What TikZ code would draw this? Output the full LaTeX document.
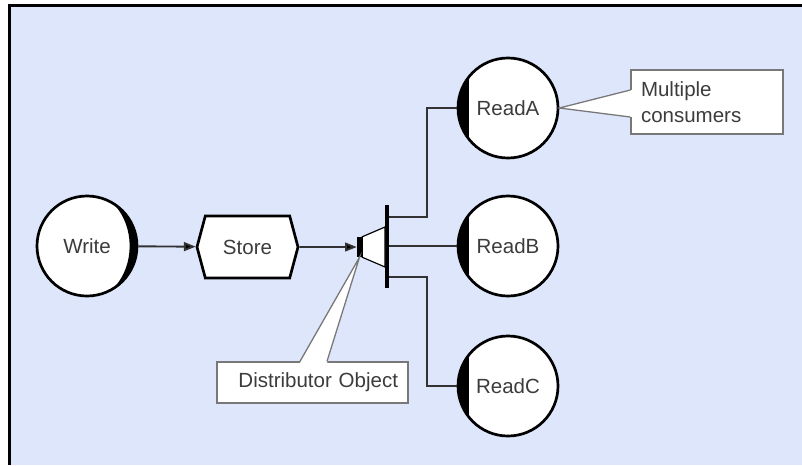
\documentclass[tikz,border=0pt]{standalone}
\usepackage{fontspec}
\setmainfont{Liberation Sans}
\usepackage{tikz}
\usetikzlibrary{arrows.meta,shapes.symbols,calc}

\definecolor{paneblue}{RGB}{222,230,252}
\definecolor{txtgray}{RGB}{60,60,60}
\definecolor{wiregray}{RGB}{50,50,50}
\definecolor{notegray}{RGB}{120,120,120}
\newcommand{\lbl}{\fontsize{17.5}{22}\selectfont}

\tikzset{
  bubble/.style={circle,draw,line width=2.3pt,fill=white,minimum size=3cm,
    inner sep=0pt,font=\lbl,text=txtgray},
  writer/.style={bubble,path picture={
    \fill[black,even odd rule] (path picture bounding box.center) circle (1.7cm)
      ([xshift=-0.17cm]path picture bounding box.center) ellipse (1.45cm and 1.7cm);}},
  reader/.style={bubble,path picture={
    \fill[black] (path picture bounding box.south west)
      rectangle ([xshift=0.33cm]path picture bounding box.north west);}},
  storebox/.style={signal,signal to=west and east,signal pointer angle=150,draw,
    line width=2.3pt,fill=white,minimum width=3.03cm,minimum height=1.86cm,
    font=\lbl,text=txtgray},
  flow/.style={wiregray,line width=1.6pt,-{Triangle[length=10pt,width=7.5pt,fill=black]}},
  wire/.style={wiregray,line width=1.6pt},
  note/.style={draw=notegray,line width=1.1pt,fill=white,font=\lbl,text=txtgray}
}

\begin{document}
\begin{tikzpicture}[x=0.03cm,y=-0.03cm]
    \useasboundingbox (0,0) rectangle (802,465);
    \fill[paneblue] (9.5,5.5) rectangle (802,465);
    \draw[line width=2.6pt] (9.5,465) -- (9.5,5.5) -- (802,5.5);

    \node[writer] (write) at (87,246) {Write};
    \node[storebox] (store) at (247.5,247) {Store};
    \node[reader] (readA) at (508,108) {ReadA};
    \node[reader] (readB) at (508,246) {ReadB};
    \node[reader] (readC) at (508,386) {ReadC};

    % distributor object
    \node[fill=black,inner sep=0pt,minimum width=0.15cm,minimum height=0.6cm] (dist) at (359.5,247) {};
    \node[fill=black,inner sep=0pt,minimum width=0.12cm,minimum height=2.49cm] (bar) at (387,246.5) {};
    \draw[line width=1pt,fill=white] (dist.north east) -- (385,227) -- (385,267) -- (dist.south east) -- cycle;

    \draw[flow] (write) -- (store);
    \draw[flow] (store) -- (dist);
    \draw[wire] (bar.east |- readB) -- (readB);
    \draw[wire] ([yshift=0.885cm]bar.east) -- ++(38,0) |- (readA);
    \draw[wire] ([yshift=-0.915cm]bar.east) -- ++(38,0) |- (readC);

    % callouts
    \node[note,minimum width=4.56cm,minimum height=1.92cm,text width=3.96cm,
      inner xsep=0.3cm,align=left] (mcons) at (707,102) {Multiple\\consumers};
    \fill[white] ($(mcons.west)+(1.5,-12)$) -- (readA.east) -- ($(mcons.west)+(1.5,15)$) -- cycle;
    \draw[notegray,line width=1.1pt] ($(mcons.west)+(0,-12)$) -- (readA.east) -- ($(mcons.west)+(0,15)$);

    \node[note,minimum width=5.73cm,minimum height=1.23cm,text width=5.13cm,
      inner xsep=0.3cm,align=right] (dobj) at (312.5,382.5) {Distributor Object};
    \fill[white] ($(dobj.north)+(-12.5,1.5)$) -- (dist.south) -- ($(dobj.north)+(14.5,1.5)$) -- cycle;
    \draw[notegray,line width=1.1pt] ($(dobj.north)+(-12.5,0)$) -- (dist.south) -- ($(dobj.north)+(14.5,0)$);
\end{tikzpicture}
\end{document}
